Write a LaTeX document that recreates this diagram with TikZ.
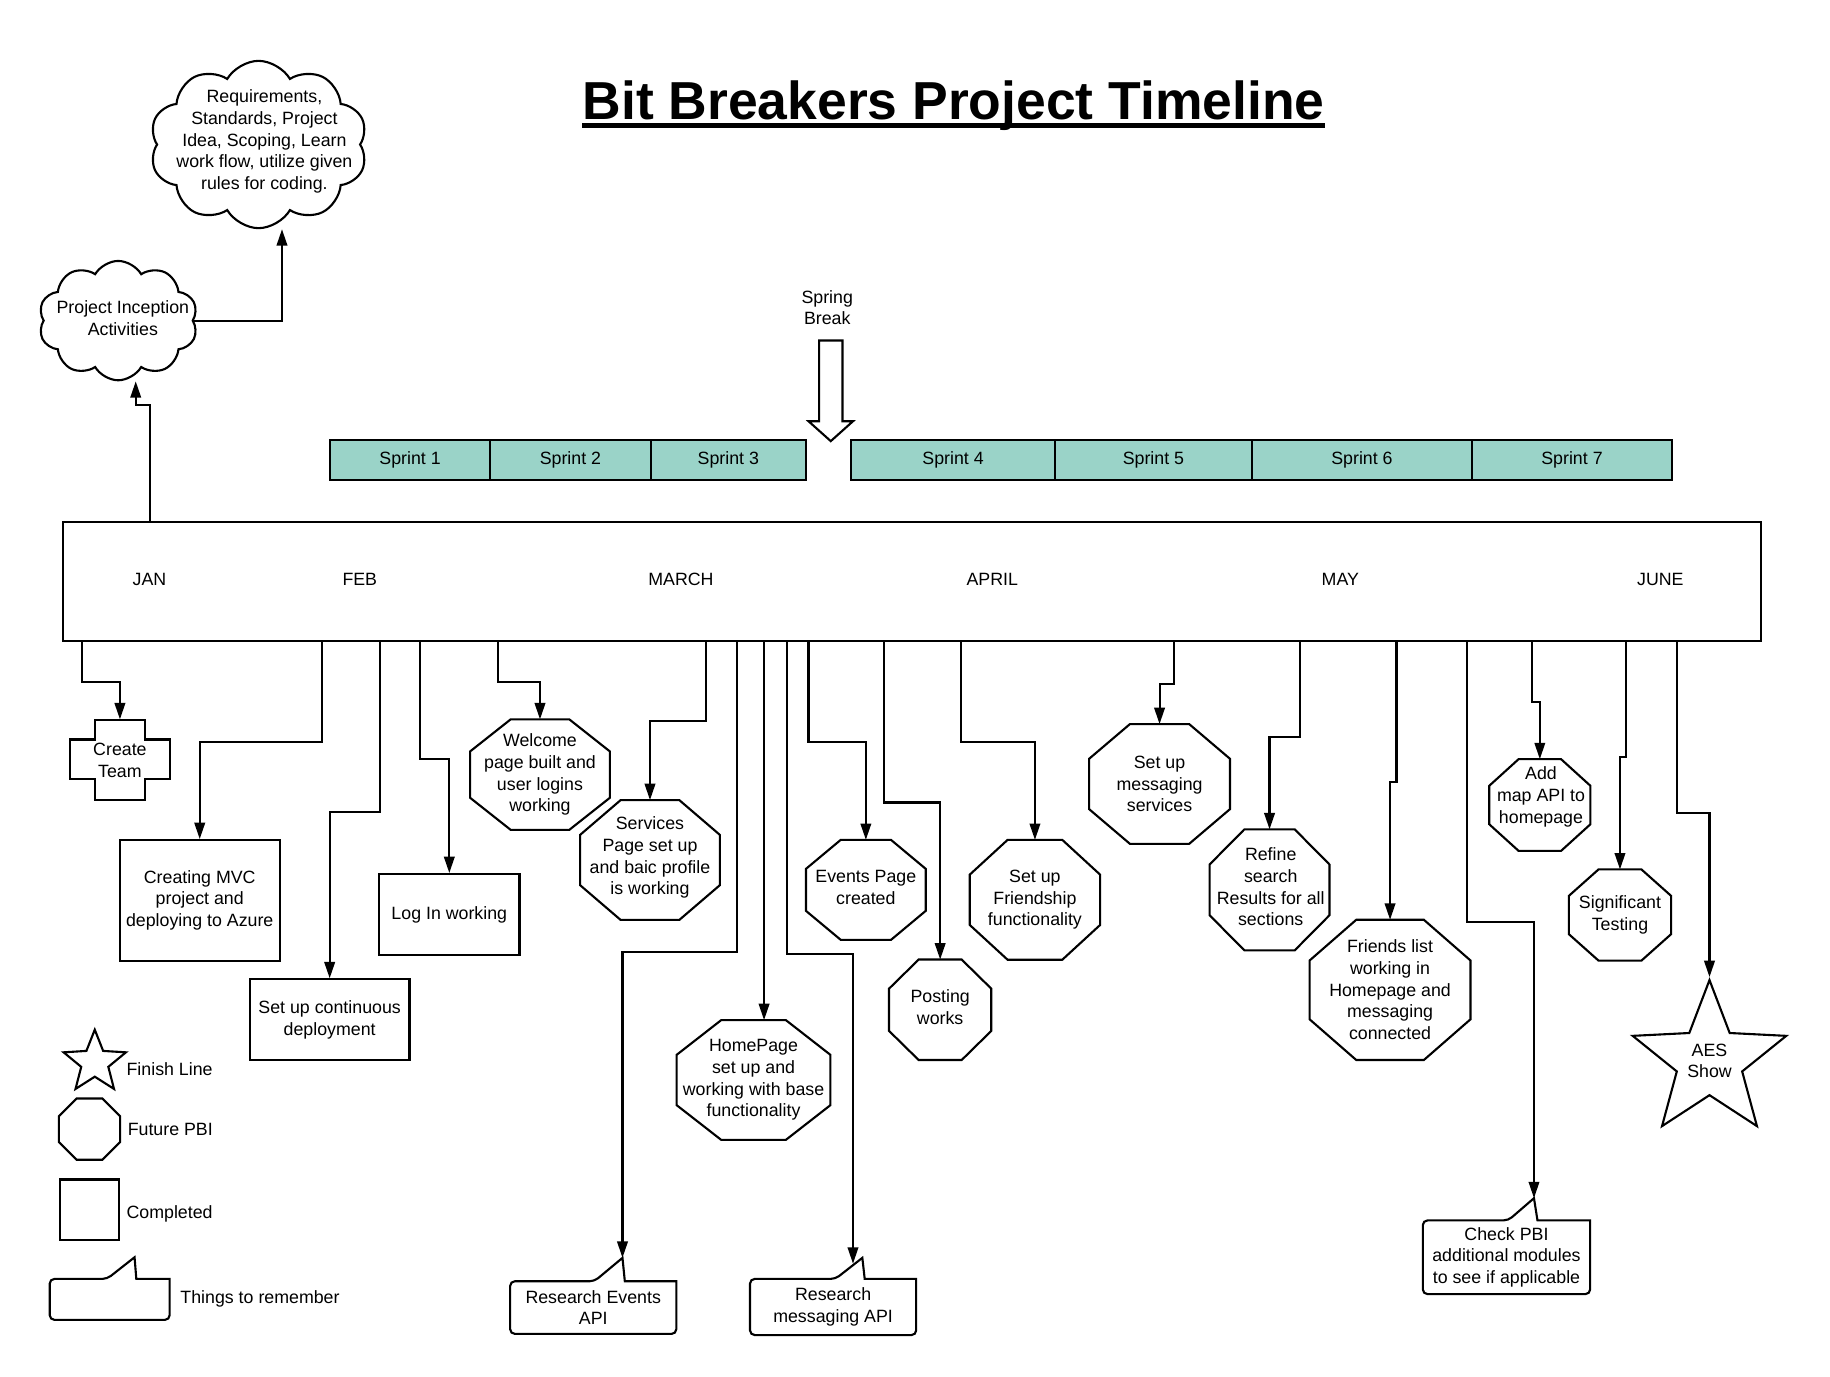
\documentclass[tikz,border=0pt]{standalone}
\usepackage{fontspec}
\setmainfont{Liberation Sans}
\usetikzlibrary{shapes.geometric,shapes.symbols,arrows.meta,calc}
\definecolor{sprintteal}{HTML}{9AD3C8}
\newcommand\txtfont{\fontsize{15.2pt}{18.5pt}\selectfont}
\tikzset{
  shp/.style={draw=black, line width=1.8pt, line join=miter},
  txt/.style={font=\txtfont, align=center, inner sep=0pt},
  boxnode/.style={txt, draw=black, line width=1.8pt},
  arr/.style={draw=black, line width=1.8pt, -{Triangle[length=14pt,width=9pt]}},
  sprintcell/.style={draw=black, line width=1.8pt, fill=sprintteal, font=\txtfont, inner sep=0pt, outer sep=0pt, minimum height=34pt, anchor=west},
  cloudnode/.style={cloud, cloud puffs=10, cloud puff arc=120, cloud ignores aspect, draw=black, line width=1.8pt, inner sep=0pt},
}
\newcommand\octshape[6]{%
  \node[txt, minimum width=#4pt, minimum height=#5pt] (#1) at (#2,#3) {#6};
  \draw[shp] ($(#1.north west)!.29!(#1.north east)$) -- ($(#1.north west)!.71!(#1.north east)$)
    -- ($(#1.north east)!.29!(#1.south east)$) -- ($(#1.north east)!.71!(#1.south east)$)
    -- ($(#1.south east)!.29!(#1.south west)$) -- ($(#1.south east)!.71!(#1.south west)$)
    -- ($(#1.south west)!.29!(#1.north west)$) -- ($(#1.south west)!.71!(#1.north west)$) -- cycle;}
% callout: name, y-top, x-left, x-right, y-bottom, base-left, base-right, tipx, tipy
\newcommand\calloutshape[9]{%
  \draw[shp] (#8,#9) -- (#7,#2) -- (#4,#2) [rounded corners=4pt] -- (#4,#5) -- (#3,#5) -- (#3,#2) -- (#6,#2) [sharp corners] -- cycle;
  \coordinate (#1) at (#8,#9);}
\begin{document}
\begin{tikzpicture}[x=1pt,y=-1pt]
\useasboundingbox (0,0) rectangle (1564,1176);
\fill[white] (0,0) rectangle (1564,1176);

% title
\node[font=\fontsize{45.7pt}{50pt}\selectfont\bfseries, inner sep=0pt, anchor=base] (title) at (815,102) {Bit Breakers Project Timeline};
\draw[line width=4pt] ($(title.base west)+(0,5.5)$) -- ($(title.base east)+(0,5.5)$);

% clouds
\node[cloudnode, minimum width=186pt, minimum height=143pt] (c1) at (221,123.5) {};
\node[txt] (c1t) at (226,121) {Requirements,\\Standards, Project\\Idea, Scoping, Learn\\work flow, utilize given\\rules for coding.};
\node[cloudnode, minimum width=136pt, minimum height=102pt] (c2) at (101,274) {};
\node[txt] (c2t) at (105,272) {Project Inception\\Activities};

% spring break
\node[txt] (sb) at (707,263) {Spring\\Break};
\draw[shp, fill=white] (700,291) -- (720,291) -- (720,360) -- (729,360) -- (710,377) -- (691,360) -- (700,360) -- cycle;

% sprints
\node[sprintcell, minimum width=137pt] (sp1) at (282,393) {Sprint 1};
\node[sprintcell, minimum width=137pt] (sp2) at (sp1.east) {Sprint 2};
\node[sprintcell, minimum width=133pt] (sp3) at (sp2.east) {Sprint 3};
\node[sprintcell, minimum width=174pt] (sp4) at (727.5,393) {Sprint 4};
\node[sprintcell, minimum width=168.5pt] (sp5) at (sp4.east) {Sprint 5};
\node[sprintcell, minimum width=188pt] (sp6) at (sp5.east) {Sprint 6};
\node[sprintcell, minimum width=171pt] (sp7) at (sp6.east) {Sprint 7};

% timeline bar
\node[draw=black, line width=1.8pt, minimum width=1451pt, minimum height=102pt, inner sep=0pt, anchor=north west] (bar) at (53,445) {};
\node[txt] (jan) at (127.7,495) {JAN};
\node[txt] (feb) at (307.5,495) {FEB};
\node[txt] (mar) at (582,495) {MARCH};
\node[txt] (apr) at (848,495) {APRIL};
\node[txt] (may) at (1145.5,495) {MAY};
\node[txt] (jun) at (1419,495) {JUNE};

% connectors up to clouds
\coordinate (s0) at ($(bar.north west)+(75,0)$);
\draw[arr] (s0) -- ++(0,-99) -| ([xshift=15pt]c2.south);
\draw[arr] (c2.east) -| ([xshift=20pt]c1.south);

% create team cross
\node[txt, minimum width=85pt, minimum height=69pt] (ct) at (102.5,649.5) {};
\draw[shp] (81,615) -- (124,615) -- (124,632) -- (145,632) -- (145,666) -- (124,666) -- (124,684) -- (81,684) -- (81,666) -- (60,666) -- (60,632) -- (81,632) -- cycle;
\node[txt] (ctt) at (102.5,650) {Create\\Team};

% completed boxes
\node[boxnode, minimum width=136.6pt, minimum height=103pt] (mvc) at (170.7,769.5) {Creating MVC\\project and\\deploying to Azure};
\node[boxnode, minimum width=136.5pt, minimum height=69pt] (cont) at (281.75,871.5) {Set up continuous\\deployment};
\node[boxnode, minimum width=120pt, minimum height=69pt] (login) at (384,781.5) {Log In working};

% future PBIs
\octshape{welcome}{461.5}{662}{119}{94}{Welcome\\page built and\\user logins\\working}
\octshape{services}{555.5}{735}{119}{102}{}
\node[txt] (servt) at (555.5,733) {Services\\Page set up\\and baic profile\\is working};
\octshape{hp}{644}{923}{131}{102}{HomePage\\set up and\\working with base\\functionality}
\octshape{events}{740}{760.5}{102}{85}{}
\node[txt] (evt) at (740,758.5) {Events Page\\created};
\octshape{posting}{803.5}{863}{87}{85.5}{}
\node[txt] (post) at (803.5,861) {Posting\\works};
\octshape{fr}{884.5}{769}{111}{102}{Set up\\Friendship\\functionality}
\octshape{ms}{991}{670}{120}{102}{Set up\\messaging\\services}
\octshape{rf}{1085}{760.5}{102}{103}{}
\node[txt] (rft) at (1086,758) {Refine\\search\\Results for all\\sections};
\octshape{fl}{1188}{846}{137}{119.5}{Friends list\\working in\\Homepage and\\messaging\\connected}
\octshape{am}{1316}{688}{86}{78}{}
\node[txt] (amt) at (1317,681) {Add\\map API to\\homepage};
\octshape{st}{1384.5}{782}{87}{77.5}{Significant\\Testing}

% finish star
\node[star, star points=5, star point ratio=2.35, draw=black, line width=1.8pt, line join=miter, minimum size=138pt, inner sep=0pt,
  label={[txt]center:AES\\Show}] (aes) at (1461,906.6) {};

% things to remember
\calloutshape{revtip}{1095}{436}{578}{1140}{508}{534}{532}{1075}
\node[txt] (rev) at (507,1117.5) {Research Events\\API};
\calloutshape{rmtip}{1093}{641}{783}{1141}{714}{739}{737}{1075}
\coordinate (rmin) at (729,1080);
\node[txt] (rm) at (712,1117) {Research\\messaging API};
\calloutshape{cptip}{1043}{1216}{1359}{1106}{1289}{1314}{1311}{1024}
\node[txt] (cp) at (1287.5,1074.5) {Check PBI\\additional modules\\to see if applicable};

% connectors from the bar
\coordinate (s1) at ($(bar.south west)+(17,0)$);
\coordinate (s2) at ($(bar.south west)+(222,0)$);
\coordinate (s3) at ($(bar.south west)+(272,0)$);
\coordinate (s4) at ($(bar.south west)+(306,0)$);
\coordinate (s5) at ($(bar.south west)+(372.6,0)$);
\coordinate (s6) at ($(bar.south west)+(550.5,0)$);
\coordinate (s7) at ($(bar.south west)+(577,0)$);
\coordinate (s8) at ($(bar.south west)+(600,0)$);
\coordinate (s9) at ($(bar.south west)+(619.5,0)$);
\coordinate (s10) at ($(bar.south west)+(638,0)$);
\coordinate (s11) at ($(bar.south west)+(702.5,0)$);
\coordinate (s12) at ($(bar.south west)+(768,0)$);
\coordinate (s13) at ($(bar.south west)+(950.5,0)$);
\coordinate (s14) at ($(bar.south west)+(1058,0)$);
\coordinate (s15) at ($(bar.south west)+(1140.5,0)$);
\coordinate (s16) at ($(bar.south west)+(1200.5,0)$);
\coordinate (s17) at ($(bar.south west)+(1256,0)$);
\coordinate (s18) at ($(bar.south west)+(1336.5,0)$);
\coordinate (s19) at ($(bar.south west)+(1380,0)$);

\draw[arr] (s1) -- ++(0,34) -| (ct.north);
\draw[arr] (s2) -- ++(0,85) -| (mvc.north);
\draw[arr] (s3) -- ++(0,145) -| (cont.north);
\draw[arr] (s4) -- ++(0,100) -| (login.north);
\draw[arr] (s5) -- ++(0,34) -| (welcome.north);
\draw[arr] (s6) -- ++(0,67.6) -| (services.north);
\draw[arr] (s7) -- ++(0,265) -| (revtip);
\draw[arr] (s8) -- (s8 |- hp.north);
\draw[arr] (s9) -- ++(0,266.7) -| (rmin);
\draw[arr] (s10) -- ++(0,85) -| (events.north);
\draw[arr] (s11) -- ++(0,137) -| (posting.north);
\draw[arr] (s12) -- ++(0,85) -| (fr.north);
\draw[arr] (s13) -- ++(0,36) -| (ms.north);
\draw[arr] (s14) -- ++(0,81) -| (rf.north);
\draw[arr] (s15) -- ++(0,119.7) -| (fl.north);
\draw[arr] (s16) -- ++(0,239) -| (cptip);
\draw[arr] (s17) -- ++(0,51) -| (am.north);
\draw[arr] (s18) -- ++(0,98) -| (st.north);
\draw[arr] (s19) -- ++(0,146) -| (aes.north);

% legend
\node[star, star points=5, star point ratio=2.3, draw=black, line width=1.8pt, line join=miter, minimum size=56pt, inner sep=0pt] (lstar) at (81,908) {};
\node[txt, anchor=west] (lstart) at (108,914) {Finish Line};
\octshape{loct}{76.5}{965}{52}{52}{}
\node[txt, anchor=west] (loctt) at (109,965) {Future PBI};
\node[draw=black, line width=1.8pt, minimum width=50.5pt, minimum height=52pt, inner sep=0pt] (lsq) at (76.75,1034) {};
\node[txt, anchor=west] (lsqt) at (108,1037.5) {Completed};
\calloutshape{ltip}{1093}{42.5}{145}{1128}{91.5}{116.5}{115}{1074.5}
\node[txt, anchor=west] (lcallt) at (154,1110) {Things to remember};
\end{tikzpicture}
\end{document}
